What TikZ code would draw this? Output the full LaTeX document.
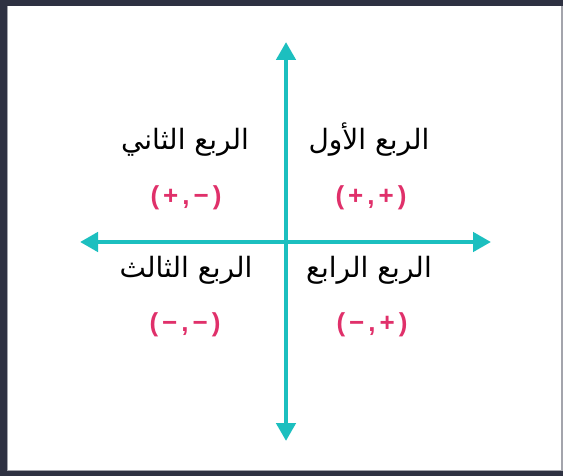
\documentclass[tikz,border=0pt]{standalone}
\usepackage{fontspec}
\usetikzlibrary{arrows.meta}
\TeXXeTstate=1
\newfontfamily\arabicfont[Script=Arabic]{DejaVu Sans}
\newfontfamily\signfont{Liberation Sans}
\definecolor{framedark}{HTML}{2E3142}
\definecolor{framegray}{HTML}{A3A4AC}
\definecolor{axisteal}{HTML}{1CBFBF}
\definecolor{signpink}{HTML}{E0306A}
\newcommand{\sg}[5]{#1\hspace{4pt}#2\hspace{4pt}#3\hspace{4pt}#4\hspace{4pt}#5}
\tikzset{
  axis/.style={draw=axisteal, line width=4.5pt, {Triangle[length=18pt,width=19pt]}-{Triangle[length=18pt,width=19pt]}},
  qlabel/.style={font=\arabicfont\fontsize{28}{30}\selectfont, text=black, inner sep=0pt, anchor=base},
  signs/.style={font=\signfont\bfseries\fontsize{26}{28}\selectfont, text=signpink, inner sep=0pt}
}
\begin{document}
\begin{tikzpicture}[x=1pt,y=-1pt]
\useasboundingbox (0,0) rectangle (563,476);
\fill[framedark] (0,0) rectangle (563,476);
\fill[framegray] (7,6) rectangle (563,471);
\fill[white] (8,6) rectangle (561,470);
% axes
\coordinate (top) at (286,42);
\coordinate (bottom) at (286,441);
\coordinate (left) at (80,242);
\coordinate (right) at (491,242);
\draw[axis] (left) -- (right);
\draw[axis] (bottom) -- (top);
% quadrant labels
\node[qlabel] (q1) at (369,150) {\beginR الربع الأول\endR};
\node[qlabel] (q2) at (185,150) {\beginR الربع الثاني\endR};
\node[qlabel] (q3) at (186,277) {\beginR الربع الثالث\endR};
\node[qlabel] (q4) at (369,277) {\beginR الربع الرابع\endR};
% signs
\node[signs] (s1) at (371,198) {\sg{(}{+}{,}{+}{)}};
\node[signs] (s2) at (186,198) {\sg{(}{+}{,}{−}{)}};
\node[signs] (s3) at (185,325) {\sg{(}{−}{,}{−}{)}};
\node[signs] (s4) at (372,325) {\sg{(}{−}{,}{+}{)}};
\end{tikzpicture}
\end{document}
